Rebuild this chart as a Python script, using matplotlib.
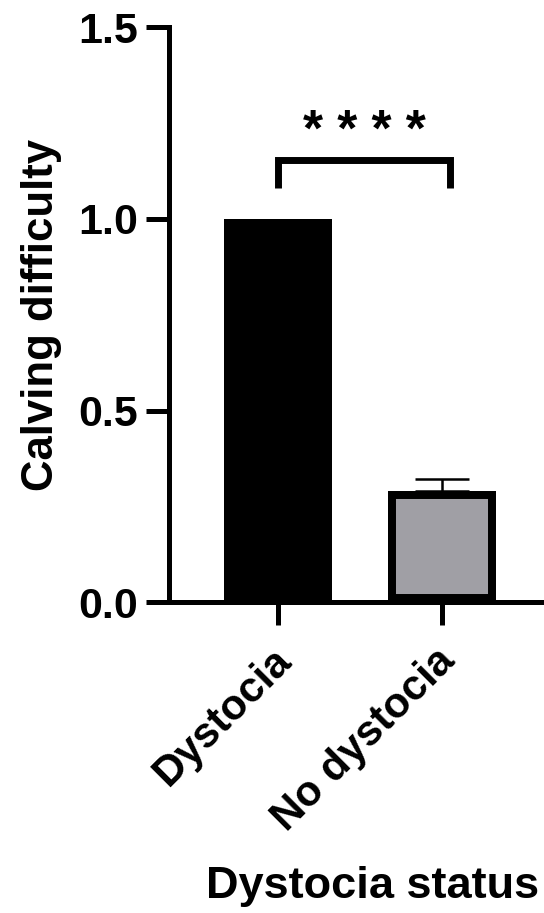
import matplotlib.pyplot as plt
from matplotlib.transforms import ScaledTranslation

# group means and SEM for calving difficulty score
groups = ["Dystocia", "No dystocia"]
means = [1.0, 0.29]
sems = [0.0, 0.03]
fills = ["black", "#a09fa5"]
yticks = [0.0, 0.5, 1.0, 1.5]

plt.rcParams['font.family'] = ['Liberation Sans', 'DejaVu Sans']
plt.rcParams['font.weight'] = 'bold'
plt.rcParams['axes.labelweight'] = 'bold'

fig = plt.figure(figsize=(5.44, 9.13), dpi=100)
ax = fig.add_axes([0.3107, 0.3406, 0.6893, 0.6293])

pos = list(range(len(groups)))

# whiskers first so the bar hides the lower half
for p, m, s in zip(pos, means, sems):
    if s > 0:
        ax.errorbar(p, m, yerr=[[0], [s]], fmt='none', ecolor='black',
                    elinewidth=1.8, capsize=19.5, capthick=1.8, zorder=1)

bars = ax.bar(pos, means, width=0.66, color=fills, edgecolor='black',
              linewidth=11.5, zorder=2)
for b in bars:
    b.set_clip_path(b)  # outline drawn inside the bar only

# significance bracket
ax.plot([0, 0, 1.05, 1.05], [1.08, 1.153, 1.153, 1.08], color='black', lw=5,
        solid_capstyle='butt', solid_joinstyle='miter', clip_on=False)
ax.text(0.525, 1.19, '* * * *', ha='center', va='baseline', fontsize=37,
        fontweight='bold')

ax.set_ylim(0, 1.5)
ax.set_yticks(yticks)
ax.set_yticklabels([f"{v:.1f}" for v in yticks])
ax.set_xlim(-0.665, 1.622)
ax.set_xticks(pos)
ax.set_xticklabels([])

# slanted group names hanging under the ticks
offset = ScaledTranslation(-0.07, -0.39, fig.dpi_scale_trans)
for p, name in zip(pos, groups):
    ax.text(p, 0, name, transform=ax.get_xaxis_transform() + offset,
            rotation=45, ha='right', va='top', rotation_mode='anchor',
            fontsize=30.5)

for side in ['top', 'right']:
    ax.spines[side].set_visible(False)
for side in ['left', 'bottom']:
    ax.spines[side].set_linewidth(3.6)

ax.tick_params(axis='both', length=16.5, width=3.6, color='black')
ax.tick_params(axis='y', pad=5.8, labelsize=31)

ax.set_ylabel("Calving difficulty", fontsize=31.5)
ax.yaxis.set_label_coords(-0.285, 0.5)
ax.set_xlabel("Dystocia status", fontsize=32.5)
ax.xaxis.set_label_coords(0.544, -0.4595)

fig.savefig("out.png", dpi=100)
